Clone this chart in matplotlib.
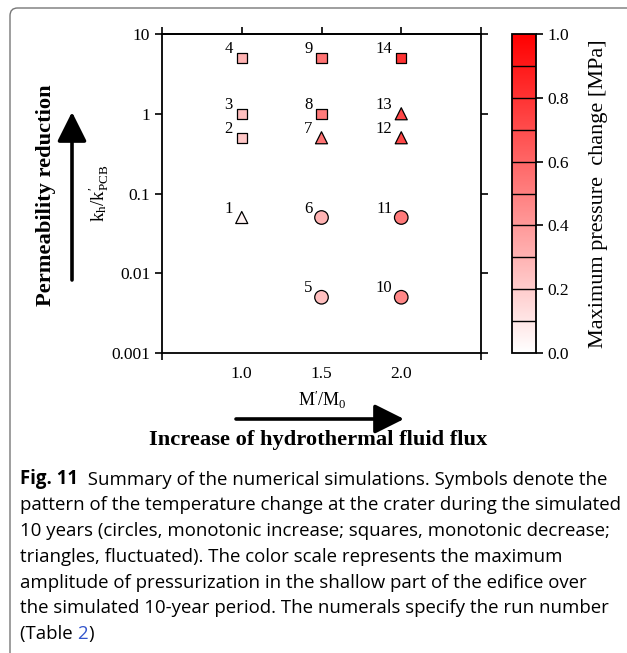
import matplotlib
matplotlib.use("Agg")
import matplotlib.pyplot as plt
import numpy as np
from matplotlib.colors import LinearSegmentedColormap, Normalize
from matplotlib.patches import FancyBboxPatch

# run data (Table 2)
runs = [1, 2, 3, 4, 5, 6, 7, 8, 9, 10, 11, 12, 13, 14]
m_ratio = [1.0, 1.0, 1.0, 1.0, 1.5, 1.5, 1.5, 1.5, 1.5, 2.0, 2.0, 2.0, 2.0, 2.0]
k_ratio = [0.05, 0.5, 1, 5, 0.005, 0.05, 0.5, 1, 5, 0.005, 0.05, 0.5, 1, 5]
pattern = ['tri', 'sq', 'sq', 'sq', 'circ', 'circ', 'tri', 'sq', 'sq',
           'circ', 'circ', 'tri', 'tri', 'sq']
dp_max = [0.05, 0.22, 0.25, 0.3, 0.25, 0.3, 0.55, 0.52, 0.55,
          0.47, 0.52, 0.72, 0.72, 0.8]

x_ticks = [1.0, 1.5, 2.0]
y_ticks = [0.001, 0.01, 0.1, 1, 10]
y_ticklabels = ['0.001', '0.01', '0.1', '1', '10']
cb_ticks = [0.0, 0.2, 0.4, 0.6, 0.8, 1.0]
cb_levels = np.linspace(0, 1, 11)

plt.rcParams['font.family'] = 'Liberation Serif'
plt.rcParams['mathtext.fontset'] = 'custom'
plt.rcParams['mathtext.rm'] = 'Liberation Serif'
plt.rcParams['mathtext.it'] = 'Liberation Serif'

W, H = 627, 653
fig = plt.figure(figsize=(W / 100, H / 100), dpi=100)

# caption frame
frame = FancyBboxPatch((10 / W, -0.02), 1.1, 1 - 8 / H + 0.02,
                       boxstyle="round,pad=0,rounding_size=0.012",
                       transform=fig.transFigure, fill=False,
                       edgecolor='#777777', lw=1.0)
fig.patches.append(frame)

ax = fig.add_axes([162 / W, 1 - 353 / H, 319 / W, 319 / H])
cax = fig.add_axes([512 / W, 1 - 353 / H, 24 / W, 319 / H])

cmap = LinearSegmentedColormap.from_list('wr', ['#ffffff', '#ff0000'])
norm = Normalize(0, 1)

markers = {'tri': ('^', 75), 'sq': ('s', 55), 'circ': ('o', 95)}
for key, (mk, size) in markers.items():
    idx = [i for i, p in enumerate(pattern) if p == key]
    ax.scatter([m_ratio[i] for i in idx], [k_ratio[i] for i in idx],
               c=[dp_max[i] for i in idx], cmap=cmap, norm=norm,
               marker=mk, s=size, edgecolors='black', linewidths=0.9,
               zorder=3)

for r, x, y in zip(runs, m_ratio, k_ratio):
    ax.annotate(str(r), (x, y), xytext=(-9, 5), textcoords='offset pixels',
                ha='right', va='baseline', fontsize=12)

ax.set_yscale('log')
ax.set_ylim(0.001, 10)
ax.set_xlim(0.5, 2.5)
ax.set_yticks(y_ticks)
ax.set_yticklabels(y_ticklabels)
ax.yaxis.set_minor_locator(matplotlib.ticker.NullLocator())
ax.set_xticks(x_ticks)
ax.set_xticklabels(['1.0', '1.5', '2.0'])
ax.set_xticks([0.5, 2.5], minor=True)
ax.tick_params(axis='x', which='major', length=0, pad=9, labelsize=12.5)
ax.tick_params(axis='x', which='minor', direction='out', length=5, width=1.2)
ax.tick_params(axis='y', which='major', direction='out', length=5, width=1.2,
               right=True, labelsize=12.5)
for sp in ax.spines.values():
    sp.set_linewidth(1.3)

top = ax.secondary_xaxis('top')
top.set_xticks([0.5, 1.0, 1.5, 2.0, 2.5])
top.tick_params(direction='out', length=5, width=1.2, labeltop=False)
top.spines['top'].set_linewidth(1.3)

ax.set_ylabel(r"$\mathrm{k_h/k^{\prime}_{PCB}}$", fontsize=13.5, labelpad=0)

fig.text(322 / W, 1 - 400 / H, r"$\mathrm{M^{\prime}/M_0}$", ha='center',
         va='center', fontsize=13)

# colorbar: continuous white-red scale with dividers every 0.1
sm = plt.cm.ScalarMappable(cmap=cmap, norm=norm)
cb = fig.colorbar(sm, cax=cax, ticks=cb_ticks)
for lv in cb_levels[1:-1]:
    cax.axhline(lv, color='black', lw=1.0)
cb.ax.set_yticklabels(['0.0', '0.2', '0.4', '0.6', '0.8', '1.0'])
cb.ax.tick_params(direction='out', length=5, width=1.2, labelsize=12.5)
cb.outline.set_linewidth(1.3)
cb.set_label('Maximum pressure  change [MPa]', fontsize=16, labelpad=14)

# axis concept labels and arrows
fig.text(46 / W, 1 - 195 / H, 'Permeability reduction', rotation=90,
         ha='center', va='center', fontsize=16.2, fontweight='bold')
fig.text(318 / W, 1 - 440 / H, 'Increase of hydrothermal fluid flux',
         ha='center', va='center', fontsize=16.2, fontweight='bold')
arrow_style = dict(arrowstyle='-|>,head_length=0.9,head_width=0.45',
                   lw=2.6, color='black', shrinkA=0, shrinkB=0,
                   mutation_scale=20)
ax.annotate('', xy=(72, H - 112), xytext=(72, H - 280),
            xycoords='figure pixels', textcoords='figure pixels',
            arrowprops=arrow_style, annotation_clip=False)
ax.annotate('', xy=(404, H - 419), xytext=(236, H - 419),
            xycoords='figure pixels', textcoords='figure pixels',
            arrowprops=arrow_style, annotation_clip=False)

# caption
cap_size = 13.4
cap_font = dict(family='Open Sans', fontsize=cap_size, va='baseline')
line_y = [484, 510, 536, 562, 588, 613, 639]
t0 = fig.text(20 / W, 1 - line_y[0] / H, 'Fig. 11', fontweight='bold',
              **cap_font)
ax.annotate('  Summary of the numerical simulations. Symbols denote the',
            xy=(1, 0), xycoords=t0, xytext=(0, 0), textcoords='offset pixels',
            family='Open Sans', fontsize=cap_size, va='bottom', ha='left',
            annotation_clip=False)
lines = [
    'pattern of the temperature change at the crater during the simulated',
    '10 years (circles, monotonic increase; squares, monotonic decrease;',
    'triangles, fluctuated). The color scale represents the maximum',
    'amplitude of pressurization in the shallow part of the edifice over',
    'the simulated 10-year period. The numerals specify the run number',
]
for ln, yy in zip(lines, line_y[1:6]):
    fig.text(20 / W, 1 - yy / H, ln, **cap_font)
t1 = fig.text(20 / W, 1 - line_y[6] / H, '(Table ', **cap_font)
t2 = ax.annotate('2', xy=(1, 0), xycoords=t1, textcoords='offset pixels',
                 xytext=(0, 0), family='Open Sans', fontsize=cap_size,
                 va='bottom', color='#3355cc', annotation_clip=False)
ax.annotate(')', xy=(1, 0), xycoords=t2, textcoords='offset pixels',
            xytext=(0, 0), family='Open Sans', fontsize=cap_size,
            va='bottom', annotation_clip=False)

fig.savefig('out.png', dpi=100)
